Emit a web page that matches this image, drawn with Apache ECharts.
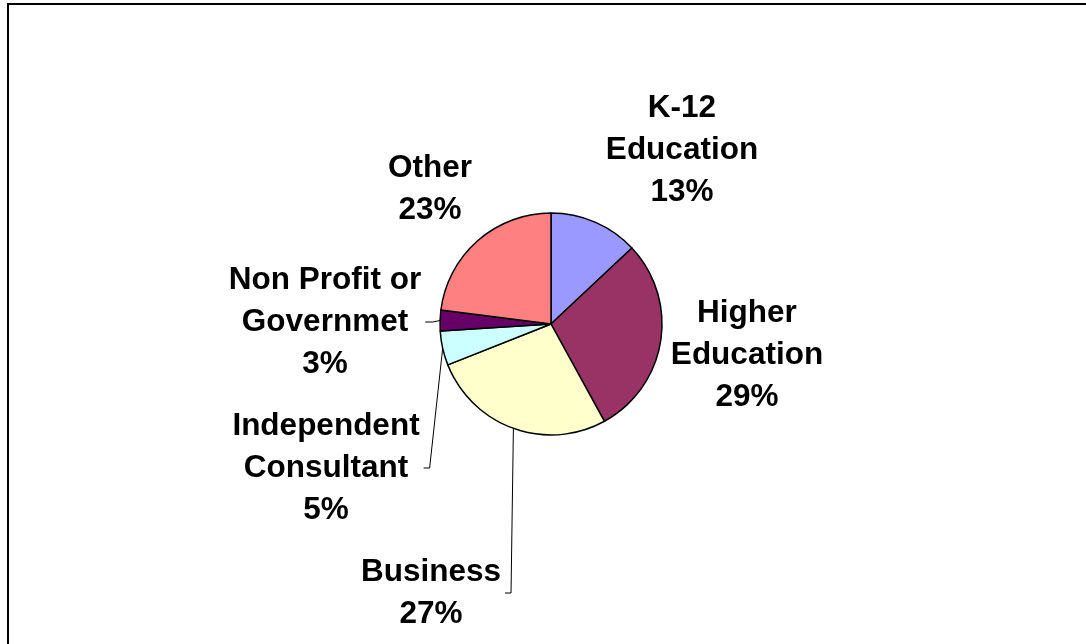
<!DOCTYPE html>
<html>
<head>
<meta charset="utf-8">
<script src="https://cdn.jsdelivr.net/npm/echarts@6/dist/echarts.min.js"></script>
<style>
  html, body { margin: 0; padding: 0; background: #fff; }
  #main { width: 1086px; height: 644px; }
</style>
</head>
<body>
<div id="main"></div>
<script>
// 分类与数值
var categories = ["K-12\nEducation", "Higher\nEducation", "Business", "Independent\nConsultant", "Non Profit or\nGovernmet", "Other"];
var values = [13, 29, 27, 5, 3, 23];
var colors = ["#9999ff", "#993366", "#ffffcc", "#ccffff", "#660066", "#ff8080"];
// 哪些扇区带引导线
var hasLine = [false, false, true, true, true, false];

// 标签中心位置（像素）
var labelPos = [[682, 150], [747, 355], [431, 593], [326, 468], [325, 322], [430, 189]];

(function() {
  var myChart = echarts.init(document.getElementById("main"));

  var pieData = categories.map(function(name, i) {
    return {
      name: name,
      value: values[i],
      itemStyle: { color: colors[i] },
      labelLine: { show: hasLine[i] }
    };
  });

  var option = {
    animation: false,
    backgroundColor: "#fff",
    graphic: [
      {
        type: "rect",
        shape: { x: 8, y: 4, width: 2000, height: 2000 },
        style: { fill: "none", stroke: "#000", lineWidth: 2 }
      }
    ],
    series: [
      {
        type: "pie",
        center: [551, 324],
        radius: 111,
        startAngle: 90,
        clockwise: true,
        avoidLabelOverlap: false,
        data: pieData,
        itemStyle: { borderColor: "#000", borderWidth: 1.5 },
        label: {
          show: true,
          position: "outside",
          formatter: "{b}\n{d}%",
          color: "#000",
          fontFamily: "Liberation Sans, Arial, sans-serif",
          fontWeight: "bold",
          fontSize: 31.5,
          lineHeight: 42,
          align: "center"
        },
        labelLine: {
          length: 10,
          length2: 10,
          lineStyle: { color: "#000", width: 1 }
        },
        labelLayout: function(params) {
          var i = params.dataIndex;
          var p = labelPos[i];
          var res = { x: p[0], y: p[1], align: "center", verticalAlign: "middle" };
          var pts = params.labelLinePoints;
          if (hasLine[i] && pts && pts.length) {
            var right = p[0] + params.labelRect.width / 2;
            var a = pts[0];
            if (i === 4) {
              res.labelLinePoints = [a, [(a[0] + right + 4) / 2, p[1]], [right + 4, p[1]]];
            } else {
              res.labelLinePoints = [a, [right + 10, p[1]], [right + 4, p[1]]];
            }
          }
          return res;
        }
      }
    ]
  };

  myChart.setOption(option);
  window.addEventListener("resize", function() {
    myChart.resize();
  });
})();
</script>
</body>
</html>
